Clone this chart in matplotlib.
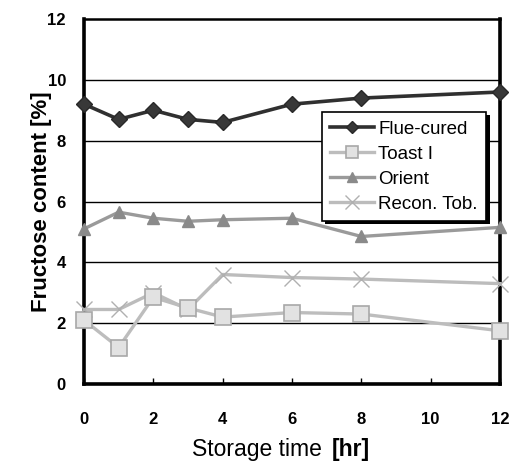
import matplotlib
matplotlib.use("Agg")
import matplotlib.pyplot as plt
import matplotlib.patheffects as pe

plt.rcParams['font.family'] = ['Liberation Sans', 'DejaVu Sans']

hours = [0, 1, 2, 3, 4, 6, 8, 12]
flue_cured = [9.2, 8.7, 9.0, 8.7, 8.6, 9.2, 9.4, 9.6]
toast_1 = [2.1, 1.2, 2.85, 2.5, 2.2, 2.35, 2.3, 1.75]
orient = [5.1, 5.65, 5.45, 5.35, 5.4, 5.45, 4.85, 5.15]
recon_tob = [2.45, 2.45, 3.0, 2.45, 3.6, 3.5, 3.45, 3.3]
series_names = ["Flue-cured", "Toast I", "Orient", "Recon. Tob."]
xticks = [0, 2, 4, 6, 8, 10, 12]
yticks = [0, 2, 4, 6, 8, 10, 12]

fig = plt.figure(figsize=(5.18, 4.61), dpi=100)
ax = fig.add_axes([84/518, 1-384/461, 416/518, 365/461])

ax.set_xlim(0, 12)
ax.set_ylim(0, 12)
for y in [2, 4, 6, 8, 10]:
    ax.axhline(y, color='black', lw=1.0, zorder=1)

ax.plot(hours, flue_cured, color='#303030', lw=2.6, marker='D', ms=8,
        mfc='#383838', mec='#282828', clip_on=False, zorder=5, label=series_names[0])
ax.plot(hours, toast_1, color='#bdbdbd', lw=2.4, marker='s', ms=11,
        mfc='#e2e2e2', mec='#a8a8a8', mew=1.2, clip_on=False, zorder=4, label=series_names[1])
ax.plot(hours, orient, color='#9a9a9a', lw=2.4, marker='^', ms=9,
        mfc='#8a8a8a', mec='#8a8a8a', clip_on=False, zorder=4, label=series_names[2])
ax.plot(hours, recon_tob, color='#bcbcbc', lw=2.4, marker='x', ms=12,
        mec='#b0b0b0', mew=1.0, clip_on=False, zorder=3, label=series_names[3])

for s in ['left', 'right', 'bottom']:
    ax.spines[s].set_linewidth(2.6)
ax.spines['top'].set_linewidth(1.8)

ax.set_xticks(xticks)
ax.set_yticks(yticks)
ax.tick_params(axis='x', direction='in', length=4, width=1, pad=20, labelsize=12)
ax.tick_params(axis='y', direction='in', length=0, pad=13, labelsize=12)
for lab in ax.get_xticklabels() + ax.get_yticklabels():
    lab.set_fontweight('bold')

ax.set_ylabel("Fructose content [%]", fontsize=16, fontweight='bold')
ax.yaxis.set_label_coords((52-84)/416, 0.5)

fig.text(192/518, 1-456/461, "Storage time", fontsize=16.5, ha='left', va='baseline')
fig.text(370/518, 1-456/461, "[hr]", fontsize=16.5, fontweight='bold', ha='right', va='baseline')

leg = ax.legend(loc='upper left', bbox_to_anchor=((322-84)/416, (384-112)/365),
                fontsize=13.5, frameon=True, fancybox=False, shadow=False,
                edgecolor='black', framealpha=1, borderpad=0.45, labelspacing=0.42,
                handlelength=2.3, handletextpad=0.25, borderaxespad=0,
                markerscale=0.8)
leg.get_frame().set_linewidth(1.2)
leg.get_frame().set_path_effects([pe.SimplePatchShadow(offset=(2.5, -2.5), shadow_rgbFace='black', alpha=1), pe.Normal()])
leg.set_zorder(10)

fig.savefig("out.png", dpi=100)
